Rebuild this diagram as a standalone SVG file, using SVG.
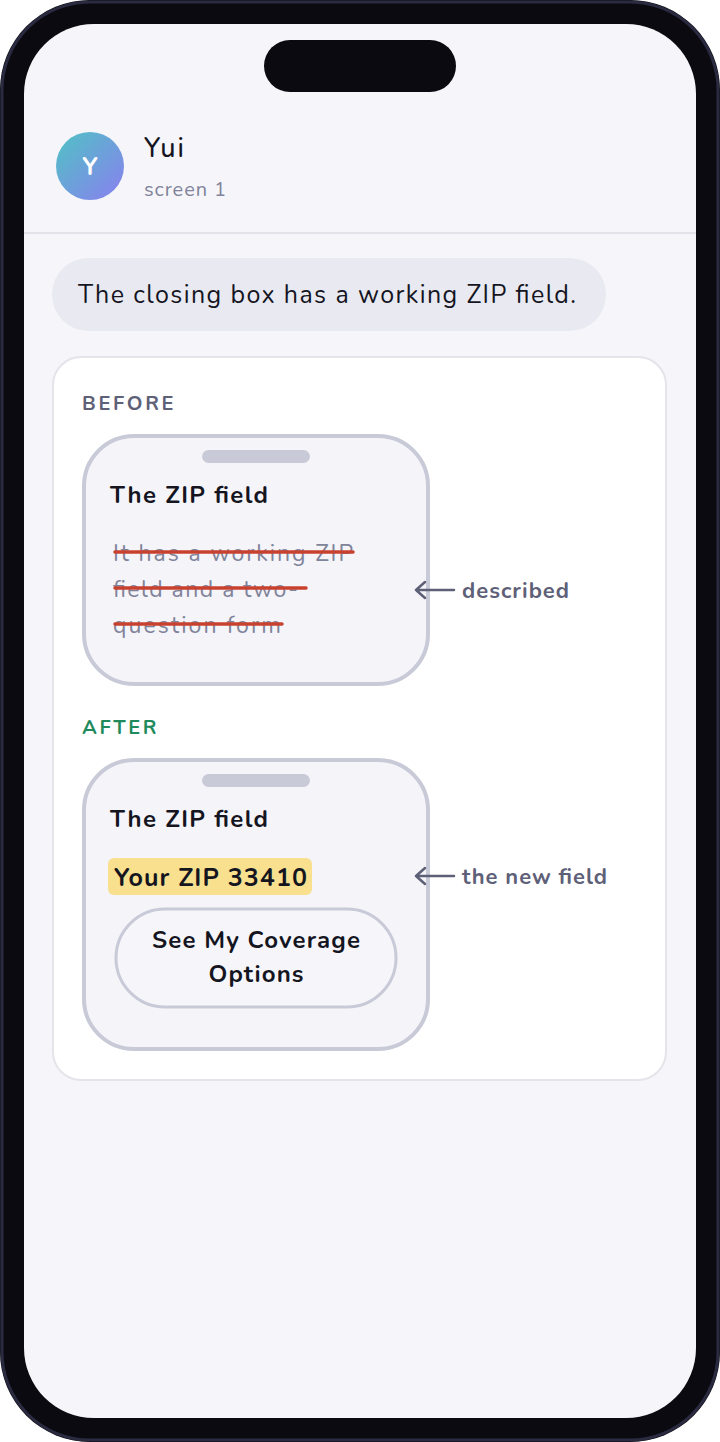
<svg xmlns="http://www.w3.org/2000/svg" width="720" height="1442" viewBox="0 0 720 1442">
<style>
text{font-family:"Nunito","Lato","Noto Sans",sans-serif}
.h{font-size:24px;font-weight:700;fill:#15151f}
.lbl{font-size:20px;font-weight:700;letter-spacing:1.5px}
.st{font-size:23px;fill:#80839a}
.red{stroke:#c8412f;stroke-width:3.5;stroke-linecap:round}
.mini{fill:#f4f4f9;stroke:#c9cad8;stroke-width:4}
.pill{fill:#c9cad8}
.note{font-size:22px;font-weight:700;fill:#5e6078}
.arr{stroke:#5e6078;stroke-width:2.5;fill:none;stroke-linecap:round;stroke-linejoin:round}
</style>
<defs><linearGradient id="av" x1="0" y1="0" x2="1" y2="1"><stop offset="0" stop-color="#4fc3c4"/><stop offset="1" stop-color="#8a7ff0"/></linearGradient></defs>
<rect x="0" y="0" width="720" height="1442" rx="90" fill="#0a0a10"/>
<rect x="2" y="2" width="716" height="1438" rx="88" fill="none" stroke="#2a2a40" stroke-width="3"/>
<rect x="24" y="24" width="672" height="1394" rx="70" fill="#f6f6fa"/>
<rect x="264" y="40" width="192" height="52" rx="26" fill="#0a0a10"/>
<g id="header">
<circle cx="90" cy="166" r="34" fill="url(#av)"/>
<text x="90" y="175" text-anchor="middle" font-size="25" font-weight="700" fill="#fff">Y</text>
<text x="144" y="157" font-size="27" font-weight="500" fill="#15151f" textLength="40">Yui</text>
<text x="144" y="196" font-size="20" fill="#80839a" textLength="82">screen 1</text>
<line x1="24" y1="233" x2="696" y2="233" stroke="#e2e2ea" stroke-width="2"/>
</g>
<g id="bubble">
<rect x="52" y="258" width="554" height="73" rx="36" fill="#e9eaf1"/>
<text x="78" y="303" font-size="25" fill="#15151f" textLength="498">The closing box has a working ZIP field.</text>
</g>
<rect x="53" y="357" width="613" height="723" rx="28" fill="#fff" stroke="#e4e4ea" stroke-width="2"/>
<text x="82" y="410" class="lbl" fill="#5e6078" textLength="93">BEFORE</text>
<g id="before">
<rect x="84" y="436" width="344" height="248" rx="50" class="mini"/>
<rect x="202" y="450" width="108" height="13" rx="6.5" class="pill"/>
<text x="110" y="503" class="h" textLength="158">The ZIP field</text>
<text x="113" y="561" class="st" textLength="240">It has a working ZIP</text>
<text x="113" y="597" class="st" textLength="185">field and a two-</text>
<text x="113" y="633" class="st" textLength="168">question form</text>
<line x1="115" y1="552" x2="353" y2="552" class="red"/>
<line x1="115" y1="588" x2="306" y2="588" class="red"/>
<line x1="115" y1="624" x2="282" y2="624" class="red"/>
</g>
<text x="82" y="734" class="lbl" fill="#1f8a5c" textLength="76">AFTER</text>
<g id="after">
<rect x="84" y="760" width="344" height="289" rx="50" class="mini"/>
<rect x="202" y="774" width="108" height="13" rx="6.5" class="pill"/>
<text x="110" y="827" class="h" textLength="158">The ZIP field</text>
<rect x="108" y="858" width="204" height="37" rx="6" fill="#f8e08e"/>
<text x="114" y="886" font-size="25" font-weight="700" fill="#15151f" textLength="193">Your ZIP 33410</text>
<rect x="116" y="909" width="280" height="98" rx="49" fill="#f6f6fa" stroke="#c9cad8" stroke-width="3"/>
<text x="256" y="948" text-anchor="middle" class="h" textLength="208">See My Coverage</text>
<text x="256" y="982" text-anchor="middle" class="h" textLength="95">Options</text>
</g>
<g id="connectors">
<path d="M454 590H416M425 582L416 590L425 598" class="arr"/>
<path d="M454 876H416M425 868L416 876L425 884" class="arr"/>
</g>
<text x="462" y="598" class="note" textLength="107">described</text>
<text x="462" y="884" class="note" textLength="145">the new field</text>
</svg>
